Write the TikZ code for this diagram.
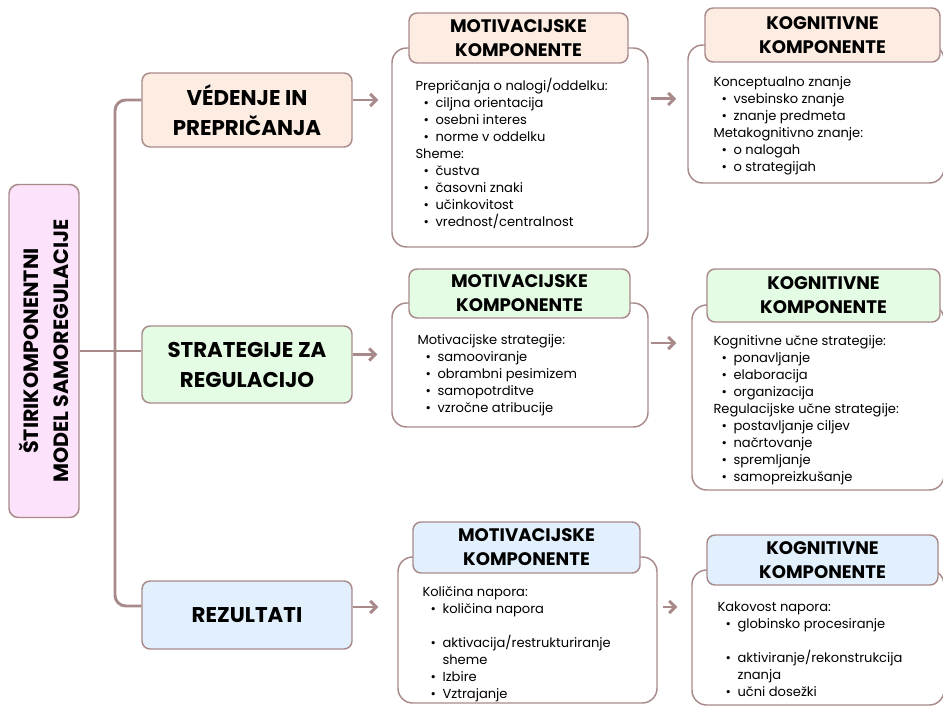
\documentclass[tikz,border=0pt]{standalone}
\usepackage{fontspec}
\setmainfont{Poppins}
\usetikzlibrary{arrows.meta}

\definecolor{linkclr}{HTML}{A98A8B}
\definecolor{peach}{HTML}{FDECE2}
\definecolor{mint}{HTML}{E4FBE4}
\definecolor{sky}{HTML}{E2F0FD}
\definecolor{pinkish}{HTML}{FCE3FB}

\tikzset{every picture/.style={line width=0.75pt}}
\tikzset{
	rootbox/.style={draw=linkclr, line width=1.1pt, fill=pinkish, rounded corners=7pt, align=center, font=\fontsize{15.5}{22.5}\selectfont\bfseries},
	topicbox/.style={draw=linkclr, line width=1.1pt, rounded corners=6pt, align=center, minimum width=157.5pt, font=\fontsize{16}{22.5}\selectfont\bfseries},
	listbox/.style={draw=linkclr, line width=1.1pt, fill=white, rounded corners=11pt},
	headbox/.style={draw=linkclr, line width=1.1pt, rounded corners=6pt, align=center, font=\fontsize{13.6}{18}\selectfont\bfseries},
	listtext/.style={anchor=north west, inner sep=0pt, align=left, font=\fontsize{9.8}{12.75}\selectfont},
	trunkline/.style={draw=linkclr, line width=2.2pt},
	arr/.style={draw=linkclr, line width=2.2pt, -{Straight Barb[length=4.5pt,width=9pt]}}
}

\newcommand{\bul}{\hspace*{6pt}\textbullet\hspace{5pt}}
\newcommand{\cont}{\hspace*{6pt}\phantom{\textbullet}\hspace{5pt}}

\begin{document}
\begin{tikzpicture}[x=0.75pt,y=0.75pt,yscale=-1,xscale=1]
	\useasboundingbox (0,0) rectangle (943,710);

	% Root Node
	\node[rootbox, rotate=90, minimum width=249.75pt, minimum height=52.5pt] (root) at (44,351) {ŠTIRIKOMPONENTNI\\MODEL SAMOREGULACIJE};

	% Topic Nodes
	\node[topicbox, fill=peach, minimum height=55.5pt] (vedenje) at (247,110) {VÉDENJE IN\\PREPRIČANJA};
	\node[topicbox, fill=mint, minimum height=57.75pt] (strategije) at (247,364.5) {STRATEGIJE ZA\\REGULACIJO};
	\node[topicbox, fill=sky, minimum height=51pt] (rezultati) at (247,615) {REZULTATI};

	% Trunk
	\coordinate (trunk) at (115,351);
	\draw[trunkline, rounded corners=8pt] ([yshift=-7.5pt]vedenje.west) -| (trunk) |- ([yshift=-6.75pt]rezultati.west);
	\draw[trunkline] (root.south) -- (root.south -| strategije.west);

	% Row 1
	\node[listbox, minimum width=192pt, minimum height=149.25pt] (motA) at (520,147.5) {};
	\node[headbox, fill=peach, minimum width=164.25pt, minimum height=37.5pt] (motAhead) at (518.5,38) {MOTIVACIJSKE\\KOMPONENTE};
	\node[listtext] (motAtext) at (415,78) {Prepričanja o nalogi/oddelku:\\
		\bul ciljna orientacija\\
		\bul osebni interes\\
		\bul norme v oddelku\\
		Sheme:\\
		\bul čustva\\
		\bul časovni znaki\\
		\bul učinkovitost\\
		\bul vrednost/centralnost};
	\node[listbox, minimum width=192pt, minimum height=103.5pt] (cogA) at (816,114) {};
	\node[headbox, fill=peach, minimum width=176.25pt, minimum height=40.5pt] (cogAhead) at (822.5,35) {KOGNITIVNE\\KOMPONENTE};
	\node[listtext] (cogAtext) at (713,76) {Konceptualno znanje\\
		\bul vsebinsko znanje\\
		\bul znanje predmeta\\
		Metakognitivno znanje:\\
		\bul o nalogah\\
		\bul o strategijah};

	% Row 2
	\node[listbox, minimum width=192pt, minimum height=93pt] (motB) at (520,365) {};
	\node[headbox, fill=mint, minimum width=165.75pt, minimum height=36.75pt] (motBhead) at (519.5,293.5) {MOTIVACIJSKE\\KOMPONENTE};
	\node[listtext] (motBtext) at (417,334) {Motivacijske strategije:\\
		\bul samooviranje\\
		\bul obrambni pesimizem\\
		\bul samopotrditve\\
		\bul vzročne atribucije};
	\node[listbox, minimum width=189pt, minimum height=138.75pt] (cogB) at (818,397.5) {};
	\node[headbox, fill=mint, minimum width=174.75pt, minimum height=39.75pt] (cogBhead) at (823.5,295.5) {KOGNITIVNE\\KOMPONENTE};
	\node[listtext] (cogBtext) at (713,335) {Kognitivne učne strategije:\\
		\bul ponavljanje\\
		\bul elaboracija\\
		\bul organizacija\\
		Regulacijske učne strategije:\\
		\bul postavljanje ciljev\\
		\bul načrtovanje\\
		\bul spremljanje\\
		\bul samopreizkušanje};

	% Row 3
	\node[listbox, minimum width=194.25pt, minimum height=109.5pt] (motC) at (527.5,630) {};
	\node[headbox, fill=sky, minimum width=170.25pt, minimum height=38.25pt] (motChead) at (526.5,547.5) {MOTIVACIJSKE\\KOMPONENTE};
	\node[listtext] (motCtext) at (422,586) {Količina napora:\\
		\bul količina napora\\[12.75pt]
		\bul aktivacija/restrukturiranje\\
		\cont sheme\\
		\bul Izbire\\
		\bul Vztrajanje};
	\node[listbox, minimum width=189pt, minimum height=101.25pt] (cogC) at (818,637.5) {};
	\node[headbox, fill=sky, minimum width=173.25pt, minimum height=37.5pt] (cogChead) at (822.5,560) {KOGNITIVNE\\KOMPONENTE};
	\node[listtext] (cogCtext) at (717,601) {Kakovost napora:\\
		\bul globinsko procesiranje\\[12.75pt]
		\bul aktiviranje/rekonstrukcija\\
		\cont znanja\\
		\bul učni dosežki};

	% Arrows
	\draw[arr, shorten >=9.75pt] ([yshift=-7.5pt]vedenje.east) -- ([yshift=-7.5pt]vedenje.east -| motA.west);
	\draw[arr, shorten >=10.5pt] ([yshift=-7.5pt]strategije.east) -- ([yshift=-7.5pt]strategije.east -| motB.west);
	\draw[arr, shorten >=14.25pt] ([yshift=-6pt]rezultati.east) -- ([yshift=-6pt]rezultati.east -| motC.west);
	\draw[arr, shorten <=1.5pt, shorten >=8.25pt] ([yshift=-36.4pt]motA.east) -- ([yshift=-36.4pt]motA.east -| cogA.west);
	\draw[arr, shorten <=1.5pt, shorten >=11.25pt] ([yshift=-16.5pt]motB.east) -- ([yshift=-16.5pt]motB.east -| cogB.west);
	\draw[arr, shorten <=3.75pt, shorten >=10.5pt] ([yshift=-17.25pt]motC.east) -- ([yshift=-17.25pt]motC.east -| cogC.west);

\end{tikzpicture}
\end{document}
